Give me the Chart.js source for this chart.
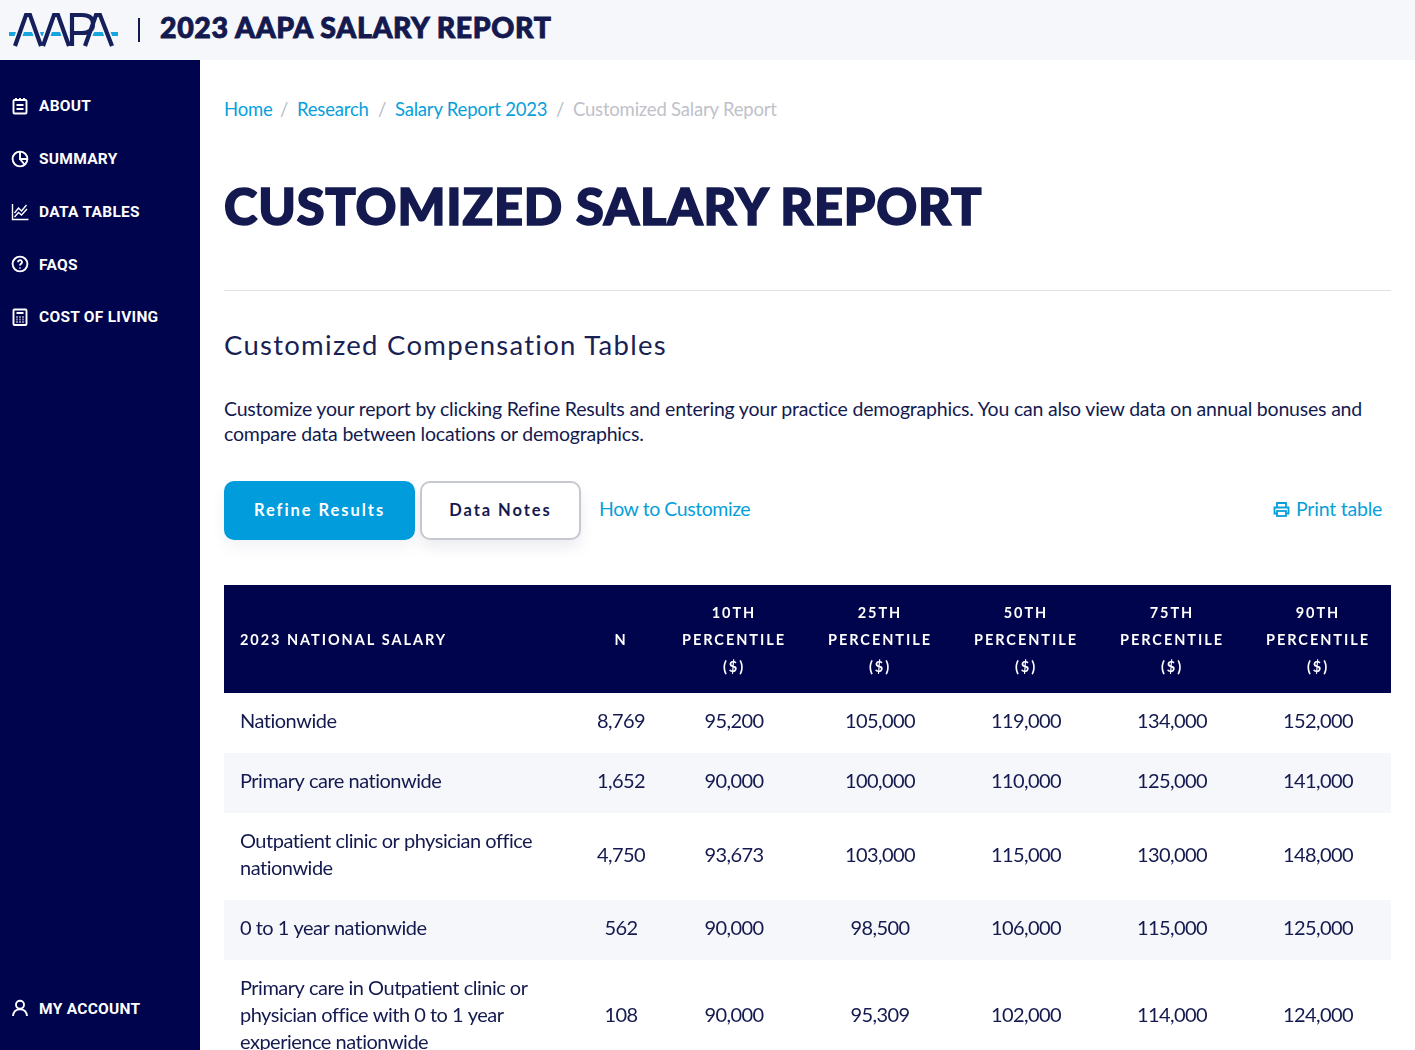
<!DOCTYPE html>
<html lang="en"><head><meta charset="utf-8"><title>Customized Salary Report</title>
<script src="https://cdn.jsdelivr.net/npm/chart.js@4/dist/chart.umd.min.js"></script>
<style>
html,body{margin:0;padding:0;background:#fff;overflow:hidden}
#page{position:relative;width:1415px;height:1050px;overflow:hidden;font-family:Lato,sans-serif;color:#141a4f}
#page div,#page a,#page svg{position:absolute;white-space:nowrap}
#top{left:0;top:0;width:1415px;height:60px;background:#f6f7fb}
#brand{left:160px;top:9px;font:900 28.5px/36px Lato;letter-spacing:.62px;color:#141a4f;-webkit-text-stroke:.9px #141a4f}
#side{left:0;top:60px;width:200px;height:990px;background:#00044c}
.nav{left:39px;font:700 15.5px/20px Roboto;color:#fff;letter-spacing:.28px}
.ic{left:11px;width:18px;height:18px;fill:none;stroke:#fff;stroke-width:1.9}
.bc{top:97px;font:400 18.5px/24px Lato;letter-spacing:-.2px;color:#079fdb}
.sep{color:#b8bac4}.cur{color:#bfc1ca}
#h1{left:224px;top:171px;font:900 50.5px/70px Lato;letter-spacing:.85px;color:#141a4f;-webkit-text-stroke:1.6px #141a4f}
#rule{left:224px;top:290px;width:1167px;height:1px;background:#dfe0e4}
#h2{left:224px;top:327px;font:400 27.5px/36px Lato;letter-spacing:1.27px;color:#1a1f55}
.p{left:224px;font:400 19.5px/25px Lato;letter-spacing:-.2px;color:#141a4f}
#b1{left:224px;top:481px;width:191px;height:59px;border-radius:10px;background:#009cdc;color:#fff;font:700 16.5px/59px Lato;letter-spacing:1.95px;text-align:center;box-shadow:0 8px 16px rgba(20,26,79,.05)}
#b2{left:420px;top:481px;width:157px;height:55px;border:2px solid #c6c8d0;border-radius:10px;background:#fff;color:#141a4f;font:700 16.5px/55px Lato;letter-spacing:1.95px;text-align:center;box-shadow:0 8px 14px rgba(20,26,79,.08)}
.lnk{top:496px;font:400 19.5px/25px Lato;letter-spacing:-.44px;color:#079fdb}
#chartBox{left:224px;top:585px;width:1167px;height:489px}
</style></head><body>
<div id="page">
<div id="top"></div>
<svg style="left:8px;top:10px" width="114" height="40" viewBox="0 0 114 40" fill="none">
<path d="M1 24 H110" stroke="#18a4de" stroke-width="3.8"/>
<path d="M7 36 L18 5 H22 L33 36 M35 36 L46 5 H50 L61 36 M64 36 V5 H74 Q85 5 85 14 Q85 23 74 23 H66 M77 36 L88 5 H92 L104 36" stroke="#f6f7fb" stroke-width="7.5"/>
<path d="M7 36 L18 5 H22 L33 36 M35 36 L46 5 H50 L61 36 M64 36 V5 H74 Q85 5 85 14 Q85 23 74 23 H66 M77 36 L88 5 H92 L104 36" stroke="#141f5c" stroke-width="4.2"/>
</svg>
<div style="left:138px;top:18px;width:2px;height:24px;background:#141a4f"></div>
<div id="brand">2023 AAPA SALARY REPORT</div>

<div id="side"></div>
<svg class="ic" style="top:97px" viewBox="0 0 18 18"><rect x="2.500" y="3" width="13" height="13.500" rx="1"/><path d="M5 1v3M9 1v3M13 1v3M5.500 8h7M5.500 12h7"/></svg>
<div class="nav" style="top:96px">ABOUT</div>
<svg class="ic" style="top:150px" viewBox="0 0 18 18"><circle cx="9" cy="9" r="7.400"/><path d="M9 2v7h7M9 9l4.500 5.500"/></svg>
<div class="nav" style="top:149px">SUMMARY</div>
<svg class="ic" style="top:203px;stroke-width:1.4" viewBox="0 0 18 18"><path d="M1.500 1v15.500h16M3.500 10l4-5 3 3 5-6M3.500 14l4-4.500 3 2.500 5.500-6"/></svg>
<div class="nav" style="top:202px">DATA TABLES</div>
<svg class="ic" style="top:255px" viewBox="0 0 18 18"><circle cx="9" cy="9" r="7.400"/><path d="M7 7.200a2 2 0 1 1 3 1.700c-.7.4-1 .8-1 1.600M9 12.400v1.200"/></svg>
<div class="nav" style="top:255px">FAQS</div>
<svg class="ic" style="top:308px" viewBox="0 0 18 18"><rect x="2.500" y="1.500" width="13" height="15.500" rx="1"/><path d="M5.500 5h7M5.500 9h1M8.500 9h1M11.500 9h1M5.500 11.500h1M8.500 11.500h1M11.500 11.500h1M5.500 14h1M8.500 14h1M11.500 14h1"/></svg>
<div class="nav" style="top:307px">COST OF LIVING</div>
<svg class="ic" style="top:999px" viewBox="0 0 18 18"><circle cx="9" cy="5.800" r="4"/><path d="M2 17c.4-4.300 3-6.600 7-6.600s6.600 2.300 7 6.600"/></svg>
<div class="nav" style="top:999px">MY ACCOUNT</div>

<div class="bc" style="left:224px">Home</div><div class="bc sep" style="left:280px">/</div>
<div class="bc" style="left:297px">Research</div><div class="bc sep" style="left:378px">/</div>
<div class="bc" style="left:395px">Salary Report 2023</div><div class="bc sep" style="left:556px">/</div>
<div class="bc cur" style="left:573px">Customized Salary Report</div>
<div id="h1">CUSTOMIZED SALARY REPORT</div>
<div id="rule"></div>
<div id="h2">Customized Compensation Tables</div>
<div class="p" style="top:396px">Customize your report by clicking Refine Results and entering your practice demographics. You can also view data on annual bonuses and</div>
<div class="p" style="top:421px">compare data between locations or demographics.</div>
<div id="b1">Refine Results</div>
<div id="b2">Data Notes</div>
<div class="lnk" style="left:599px">How to Customize</div>
<svg style="left:1273px;top:501px" width="17" height="17" viewBox="0 0 17 17" fill="none" stroke="#079fdb" stroke-width="1.8"><path d="M4 6V2h9v4M4 12.500H1.500V6.500h14v6H13"/><rect x="4" y="10" width="9" height="5"/></svg>
<div class="lnk" style="left:1296px;letter-spacing:-.22px">Print table</div>
<div id="chartBox"><canvas id="c" width="1167" height="489"></canvas></div>
</div>
<script>
const columns = ['2023 NATIONAL SALARY','N','10TH','25TH','50TH','75TH','90TH'];
const columnLines = [['2023 NATIONAL SALARY'],['N'],['10TH','PERCENTILE','($)'],['25TH','PERCENTILE','($)'],['50TH','PERCENTILE','($)'],['75TH','PERCENTILE','($)'],['90TH','PERCENTILE','($)']];
const rows = ['Nationwide','Primary care nationwide','Outpatient clinic or physician office nationwide','0 to 1 year nationwide','Primary care in Outpatient clinic or physician office with 0 to 1 year experience nationwide'];
const rowLines = [['Nationwide'],['Primary care nationwide'],['Outpatient clinic or physician office','nationwide'],['0 to 1 year nationwide'],['Primary care in Outpatient clinic or','physician office with 0 to 1 year','experience nationwide']];
const nCounts = [8769,1652,4750,562,108];
const p10 = [95200,90000,93673,90000,90000];
const p25 = [105000,100000,103000,98500,95309];
const p50 = [119000,110000,115000,106000,102000];
const p75 = [134000,125000,130000,115000,114000];
const p90 = [152000,141000,148000,125000,124000];
const valueColumns = [nCounts,p10,p25,p50,p75,p90];

class WeightedScale extends Chart.CategoryScale {
  static id = 'weighted';
  static defaults = {};
  band(i){
    const w = this.options.weights, total = w.reduce((a,b)=>a+b,0);
    const start = this.isHorizontal()?this.left:this.top, len = this.isHorizontal()?this.width:this.height;
    const before = w.slice(0,i).reduce((a,b)=>a+b,0);
    return {start:start+before/total*len, size:w[i]/total*len};
  }
  getPixelForValue(value){
    if(typeof value!=='number') value=this.parse(value);
    if(value===null) return NaN;
    const b=this.band(value); return b.start+b.size/2;
  }
  _calculatePadding(){
    this.paddingTop=this.paddingBottom=this.paddingLeft=this.paddingRight=0;
  }
  _computeLabelItems(area){
    const items=super._computeLabelItems(area);
    if(this.options.firstLeft!==undefined && items[0]){
      items[0].options.textAlign='left';
      items[0].options.translation[0]=this.left+this.options.firstLeft;
    }
    return items;
  }
  drawLabels(area){
    const ctx=this.ctx; ctx.save();
    ctx.letterSpacing=this.options.spacing||'0px';
    ctx.translate(0,this.options.nudge||0);
    super.drawLabels(area);
    ctx.restore();
  }
}
Chart.register(WeightedScale);

const bodyFont='Lato';
const tablePaint={
  id:'tablePaint',
  beforeDraw(chart){
    const {ctx,scales:{x,y},width}=chart;
    ctx.save();
    ctx.fillStyle='#00044c'; ctx.fillRect(0,0,width,x.bottom);
    ctx.fillStyle='#f6f7fa';
    rows.forEach((r,i)=>{ if(i%2===1){const b=y.band(i); ctx.fillRect(0,b.start,width,b.size);} });
    ctx.restore();
  },
  afterDatasetsDraw(chart){
    const {ctx}=chart;
    ctx.save();
    ctx.font='400 20px '+bodyFont; ctx.letterSpacing='-0.6px';
    ctx.fillStyle='#141a4f'; ctx.textAlign='center'; ctx.textBaseline='middle';
    chart.data.datasets.forEach((ds,d)=>{
      chart.getDatasetMeta(d).data.forEach((pt,i)=>{
        ctx.fillText(ds.data[i].value.toLocaleString('en-US'),pt.x,pt.y-1);
      });
    });
    ctx.restore();
  }
};

new Chart(document.getElementById('c'),{
  type:'scatter',
  data:{
    xLabels:columns, yLabels:rows,
    datasets:valueColumns.map((vals,c)=>({
      label:columns[c+1],
      data:vals.map((value,r)=>({x:columns[c+1],y:rows[r],value})),
      pointRadius:0,pointHoverRadius:0,showLine:false
    }))
  },
  options:{
    responsive:false,animation:false,devicePixelRatio:1,
    layout:{padding:0,autoPadding:false},
    events:[],
    plugins:{legend:{display:false},title:{display:false},tooltip:{enabled:false}},
    scales:{
      x:{type:'weighted',position:'top',weights:[357,80,146,146,146,146,146],firstLeft:16,spacing:'1.95px',
        grid:{display:false},border:{display:false},
        afterFit(s){s.height=108;},
        ticks:{autoSkip:false,maxRotation:0,minRotation:0,crossAlign:'center',color:'#fff',padding:18,
          font:{family:bodyFont,size:14.5,weight:'700',lineHeight:'27px'},
          callback:(v,i)=>columnLines[i]}},
      y:{type:'weighted',position:'left',weights:[60,60,87,60,114],spacing:'-0.5px',nudge:-1,
        grid:{display:false},border:{display:false},
        afterFit(s){s.width=0;},
        ticks:{autoSkip:false,mirror:true,padding:16,crossAlign:'near',color:'#141a4f',
          font:{family:bodyFont,size:20,weight:'400',lineHeight:'27px'},
          callback:(v,i)=>rowLines[i]}}
    }
  },
  plugins:[tablePaint]
});
</script>
</body></html>
